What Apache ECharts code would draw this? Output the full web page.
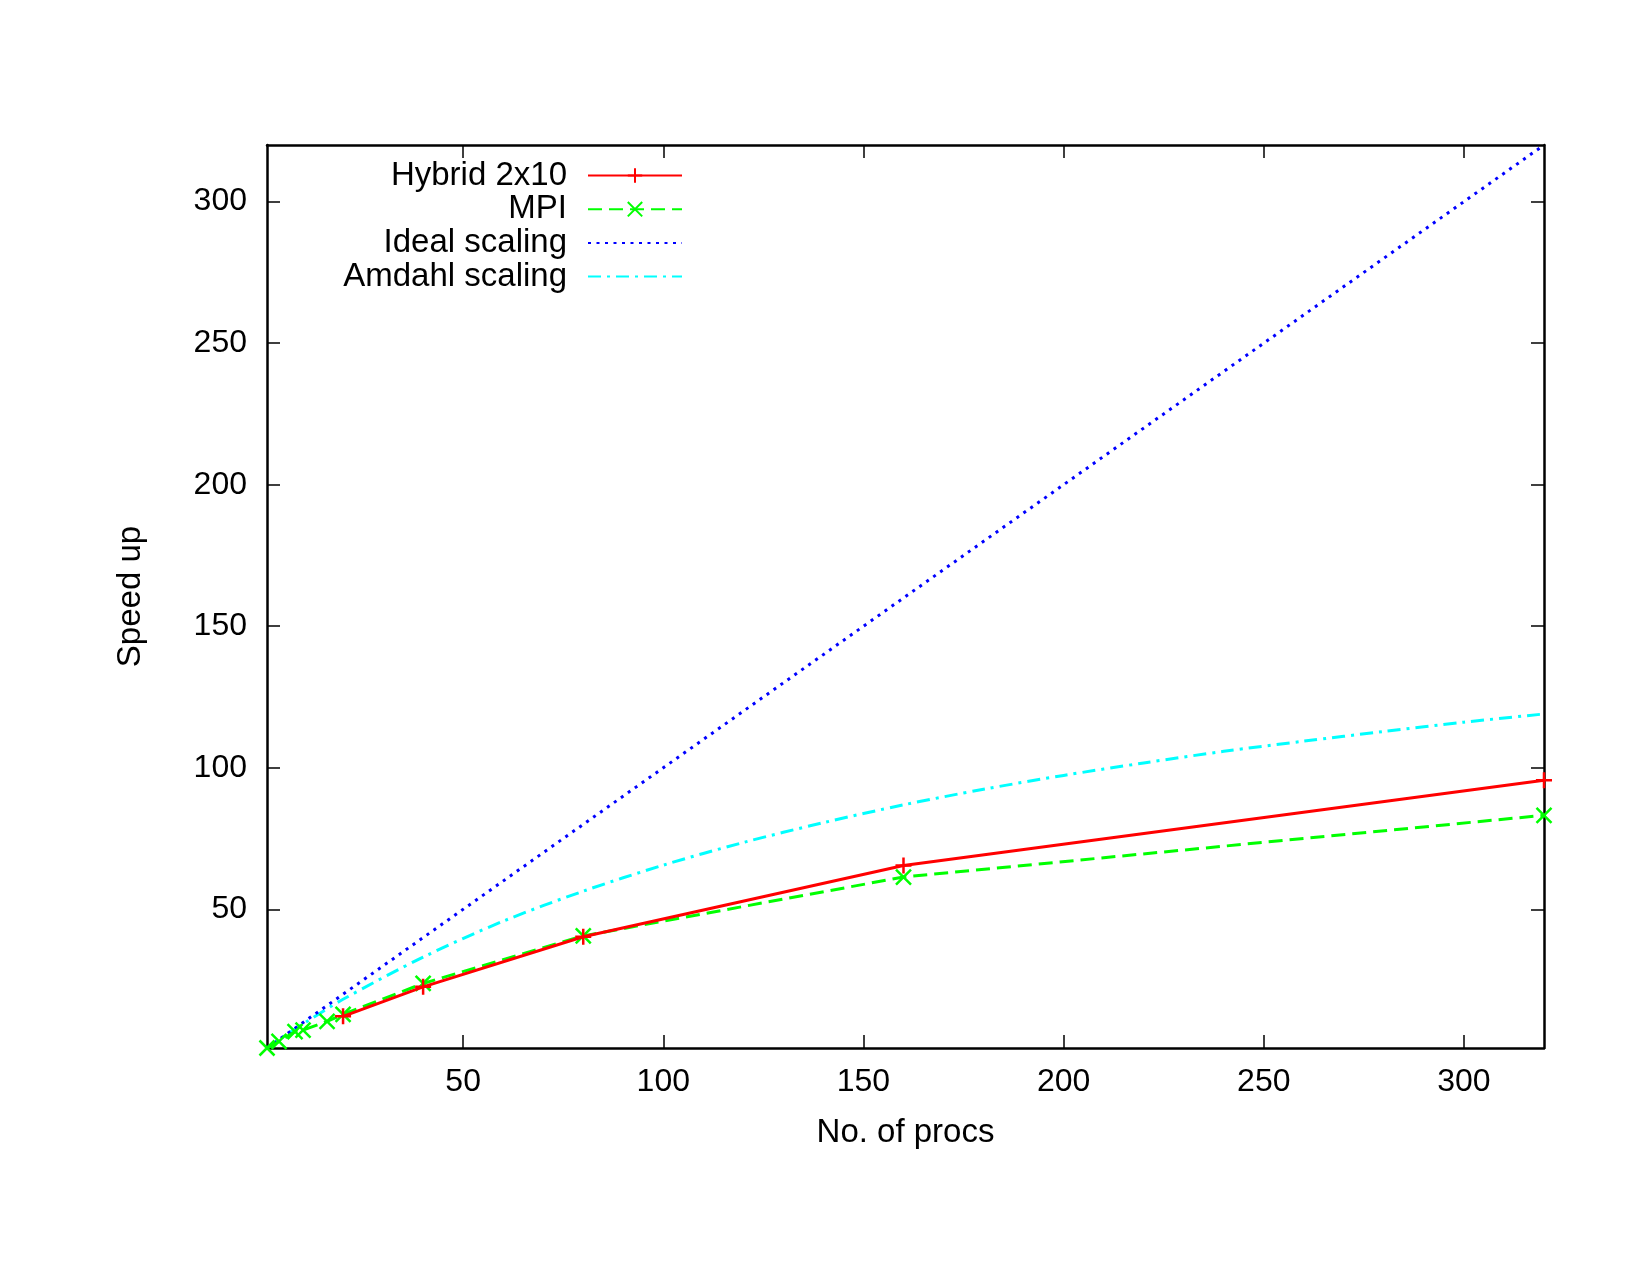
<!DOCTYPE html>
<html>
<head>
<meta charset="utf-8">
<script src="https://cdn.jsdelivr.net/npm/echarts@6/dist/echarts.min.js"></script>
<style>
  html, body { margin: 0; padding: 0; background: #fff; }
  #main { width: 1650px; height: 1275px; }
</style>
</head>
<body>
<div id="main"></div>
<script>
// speed up vs number of procs
var tickValues = [50, 100, 150, 200, 250, 300];

var hybridProcs = [20, 40, 80, 160, 320];
var hybridSpeedup = [12.2, 22.6, 40.3, 65.5, 95.6];

var mpiProcs = [1, 4, 8, 10, 16, 20, 40, 80, 160, 320];
var mpiSpeedup = [1, 3.3, 6.8, 7.3, 10.4, 12.9, 23.8, 40.6, 61.4, 83.2];

var idealProcs = [1, 320];
var idealSpeedup = [1, 320];

var amdahlProcs = [1, 5, 10, 20, 40, 60, 80, 100, 120, 140, 160, 180, 200, 220, 240, 260, 280, 300, 320];
var amdahlSpeedup = [1, 4.9, 9.5, 18.2, 33.1, 45.8, 56.4, 65.6, 73.6, 80.6, 86.9, 92.4, 97.3, 101.7, 105.8, 109.4, 112.8, 116.1, 119.0];

function pairs(xs, ys) {
    var out = [];
    for (var i = 0; i < xs.length; i++) out.push([xs[i], ys[i]]);
    return out;
}

var plusPath = 'path://M5,0L5,10M0,5L10,5';
var crossPath = 'path://M0,0L10,10M10,0L0,10';
var font = 'Liberation Sans, Arial, Helvetica, sans-serif';

var myChart = echarts.init(document.getElementById('main'));

function axisBase(show) {
    return {
        type: 'value',
        min: 1,
        max: 320,
        splitLine: { show: false },
        axisLine: { show: true, onZero: false, lineStyle: { color: '#000', width: 2.5 } },
        axisTick: { show: true, inside: true, length: 13, customValues: tickValues,
                    lineStyle: { color: '#000', width: 1.5 } },
        axisLabel: { show: show, customValues: tickValues, color: '#000', fontSize: 32, fontFamily: font },
        nameTextStyle: { color: '#000', fontSize: 33, fontFamily: font }
    };
}

var xBottom = axisBase(true);
xBottom.position = 'bottom';
xBottom.name = 'No. of procs';
xBottom.nameLocation = 'middle';
xBottom.nameGap = 68;
xBottom.axisLabel.margin = 18;

var xTop = axisBase(false);
xTop.position = 'top';

var yLeft = axisBase(true);
yLeft.position = 'left';
yLeft.name = 'Speed up';
yLeft.nameLocation = 'middle';
yLeft.nameGap = 120;
yLeft.axisLabel.margin = 20;

var yRight = axisBase(false);
yRight.position = 'right';

var option = {
    animation: false,
    backgroundColor: '#fff',
    grid: { left: 267, right: 106, top: 145, bottom: 227 },
    legend: {
        orient: 'vertical',
        left: 332,
        top: 154,
        align: 'right',
        itemWidth: 94,
        itemHeight: 18,
        itemGap: 0.7,
        textStyle: {
            color: '#000', fontSize: 33, fontFamily: font,
            width: 230, align: 'right', lineHeight: 32, padding: [0, 16, 0, 0]
        },
        data: [
            { name: 'Hybrid 2x10' },
            { name: 'MPI' },
            { name: 'Ideal scaling', itemStyle: { opacity: 0 } },
            { name: 'Amdahl scaling', itemStyle: { opacity: 0 } }
        ]
    },
    xAxis: [xBottom, xTop],
    yAxis: [yLeft, yRight],
    series: [
        {
            name: 'Hybrid 2x10',
            type: 'line',
            data: pairs(hybridProcs, hybridSpeedup),
            symbol: plusPath,
            symbolSize: 16,
            itemStyle: { color: '#ff0000', borderColor: '#ff0000', borderWidth: 2.5 },
            lineStyle: { color: '#ff0000', width: 3, type: 'solid' },
            z: 5
        },
        {
            name: 'MPI',
            type: 'line',
            data: pairs(mpiProcs, mpiSpeedup),
            symbol: crossPath,
            symbolSize: 15,
            itemStyle: { color: '#00ff00', borderColor: '#00ff00', borderWidth: 2.5 },
            lineStyle: { color: '#00ff00', width: 3, type: [14, 7] },
            z: 4
        },
        {
            name: 'Ideal scaling',
            type: 'line',
            data: pairs(idealProcs, idealSpeedup),
            symbol: 'none',
            itemStyle: { color: '#0000ff' },
            lineStyle: { color: '#0000ff', width: 3, type: [3, 5.5] },
            z: 3
        },
        {
            name: 'Amdahl scaling',
            type: 'line',
            data: pairs(amdahlProcs, amdahlSpeedup),
            symbol: 'none',
            smooth: 0.3,
            itemStyle: { color: '#00ffff' },
            lineStyle: { color: '#00ffff', width: 3, type: [13, 6, 3, 6] },
            z: 2
        }
    ]
};

myChart.setOption(option);
</script>
</body>
</html>
